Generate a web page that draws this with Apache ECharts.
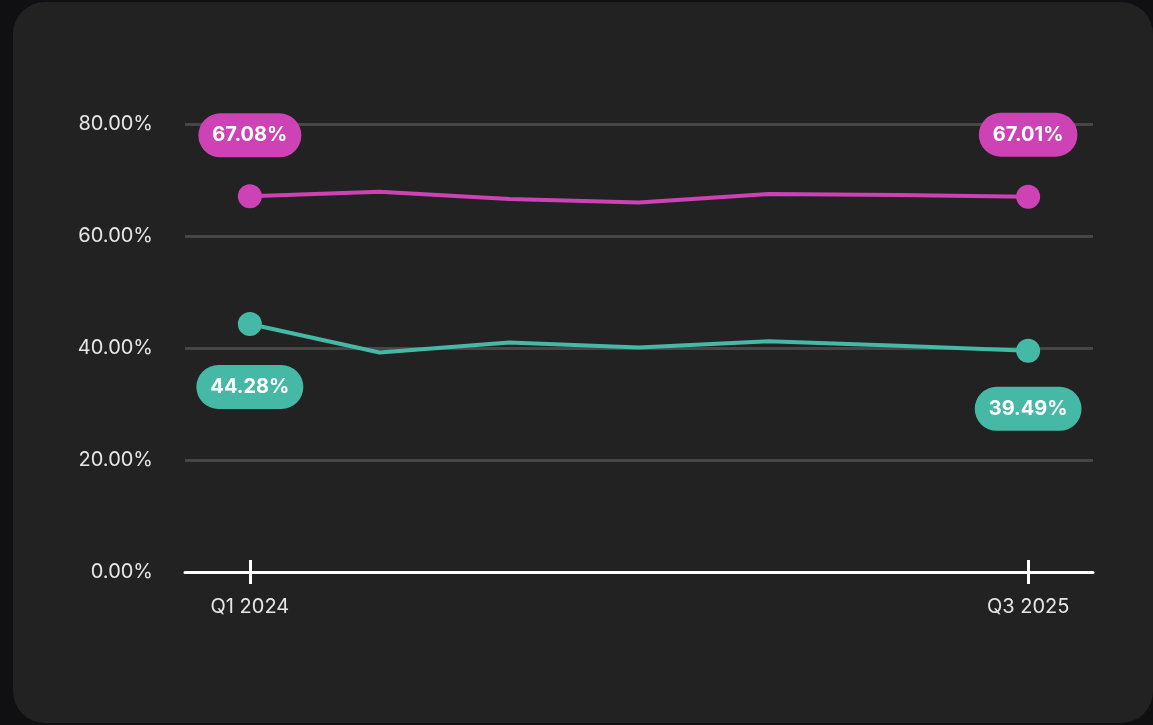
<!DOCTYPE html>
<html>
<head>
<meta charset="utf-8">
<script src="https://cdn.jsdelivr.net/npm/echarts@6/dist/echarts.min.js"></script>
<style>
  html, body { margin: 0; padding: 0; background: #101012; overflow: hidden; }
  #card { position: absolute; left: 13px; top: 2px; width: 1140px; height: 721px; background: #222222; border-radius: 32px; }
  #chart { position: absolute; left: 0; top: 0; width: 1153px; height: 725px; }
</style>
</head>
<body>
<div id="card"></div>
<div id="chart"></div>
<script>
  // 季度
  const categories = ['Q1 2024', 'Q2 2024', 'Q3 2024', 'Q4 2024', 'Q1 2025', 'Q2 2025', 'Q3 2025']
  const pinkValues = [67.08, 67.9, 66.6, 66.0, 67.5, 67.3, 67.01]
  const tealValues = [44.28, 39.2, 41.0, 40.1, 41.2, 40.4, 39.49]
  const yTicks = [0, 20, 40, 60, 80]

  const PINK = '#cd43b6'
  const TEAL = '#45b8a6'
  const FONT = 'Inter, "Noto Sans", sans-serif'

  // 只在首尾显示点和标签
  function buildData(values, color, pos, distances) {
    const last = values.length - 1
    return values.map(function (v, i) {
      const edge = i === 0 || i === last
      return {
        value: v,
        symbolSize: edge ? 24 : 0,
        label: {
          show: edge,
          position: pos,
          distance: i === 0 ? distances[0] : distances[1],
          formatter: function (p) { return p.value.toFixed(2) + '%' },
          color: '#ffffff',
          fontFamily: FONT,
          fontSize: 20,
          fontWeight: 'bold',
          lineHeight: 22,
          backgroundColor: color,
          borderRadius: 22,
          padding: [11, 14]
        }
      }
    })
  }

  const edgeOnly = function (i) { return i === 0 || i === categories.length - 1 }

  const chart = echarts.init(document.getElementById('chart'))
  chart.setOption({
    backgroundColor: 'transparent',
    animation: false,
    grid: { left: 185, right: 60, top: 124, bottom: 153 },
    xAxis: [{
      type: 'category',
      data: categories,
      boundaryGap: true,
      position: 'bottom',
      axisLine: { lineStyle: { color: '#ffffff', width: 3 } },
      axisTick: { show: true, alignWithLabel: true, interval: edgeOnly, length: 12, lineStyle: { color: '#ffffff', width: 3 } },
      axisLabel: { interval: edgeOnly, margin: 25, color: '#e6e6e6', fontFamily: FONT, fontSize: 20 },
      splitLine: { show: false }
    }, {
      type: 'category',
      data: categories,
      boundaryGap: true,
      position: 'bottom',
      axisLine: { show: false },
      axisTick: { show: true, inside: true, alignWithLabel: true, interval: edgeOnly, length: 12, lineStyle: { color: '#ffffff', width: 3 } },
      axisLabel: { show: false },
      splitLine: { show: false }
    }],
    yAxis: {
      type: 'value',
      min: yTicks[0],
      max: yTicks[yTicks.length - 1],
      interval: 20,
      axisLine: { show: false },
      axisTick: { show: false },
      axisLabel: {
        margin: 32,
        color: '#e6e6e6',
        fontFamily: FONT,
        fontSize: 20,
        formatter: function (v) { return v.toFixed(2) + '%' }
      },
      splitLine: { lineStyle: { color: '#474747', width: 3 } }
    },
    series: [{
      type: 'line',
      xAxisIndex: 0,
      data: buildData(pinkValues, PINK, 'top', [27, 28]),
      symbol: 'circle',
      color: PINK,
      lineStyle: { color: PINK, width: 4 },
      itemStyle: { color: PINK },
      z: 3
    }, {
      type: 'line',
      xAxisIndex: 0,
      data: buildData(tealValues, TEAL, 'bottom', [29, 24]),
      symbol: 'circle',
      color: TEAL,
      lineStyle: { color: TEAL, width: 4 },
      itemStyle: { color: TEAL },
      z: 3
    }]
  })
  window.addEventListener('resize', function () {
    chart.resize()
  })
</script>
</body>
</html>
